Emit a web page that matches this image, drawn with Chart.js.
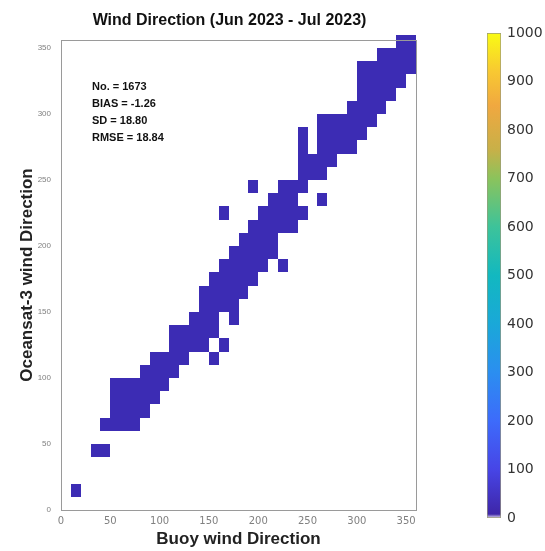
<!DOCTYPE html>
<html lang="en">
<head>
    <meta charset="UTF-8">
    <title>Wind Direction (Jun 2023 - Jul 2023)</title>
    <script src="https://cdn.jsdelivr.net/npm/chart.js"></script>
    <style>
        body { margin: 0; background: #fff; }
        #wrap { position: relative; width: 545px; height: 551px; }
        #plot { position: absolute; left: 0; top: 0; }
        #cbar { position: absolute; left: 460px; top: 0; }
    </style>
</head>
<body>
<div id="wrap">
    <canvas id="plot" width="460" height="551"></canvas>
    <canvas id="cbar" width="85" height="551"></canvas>
</div>

<script>
    // bins of 10 degrees, column index -> list of filled row indexes
    const binSize = 10;
    const colBins = [1, 3, 4, 5, 6, 7, 8, 9, 10, 11, 12, 13, 14, 15, 16, 17, 18,
                     19, 20, 21, 22, 23, 24, 25, 26, 27, 28, 29, 30, 31, 32, 33, 34, 35];
    const rowBins = [
        [1], [4], [4, 6], [6, 7, 8, 9], [6, 7, 8, 9], [6, 7, 8, 9],
        [7, 8, 9, 10], [8, 9, 10, 11], [9, 10, 11], [10, 11, 12, 13],
        [11, 12, 13], [12, 13, 14], [12, 13, 14, 15, 16], [11, 13, 14, 15, 16, 17],
        [12, 15, 16, 17, 18, 22], [14, 15, 16, 17, 18, 19], [16, 17, 18, 19, 20],
        [17, 18, 19, 20, 21, 24], [18, 19, 20, 21, 22], [19, 20, 21, 22, 23],
        [18, 21, 22, 23, 24], [21, 22, 23, 24], [22, 24, 25, 26, 27, 28], [25, 26],
        [23, 25, 26, 27, 28, 29], [26, 27, 28, 29], [27, 28, 29], [27, 28, 29, 30],
        [28, 29, 30, 31, 32, 33], [29, 30, 31, 32, 33], [30, 31, 32, 33, 34],
        [31, 32, 33, 34], [32, 33, 34, 35], [33, 34, 35]
    ];

    const xTicks = [0, 50, 100, 150, 200, 250, 300, 350];
    const yTicks = [0, 50, 100, 150, 200, 250, 300, 350];
    const cbTicks = [0, 100, 200, 300, 400, 500, 600, 700, 800, 900, 1000];
    const statLines = ['No. = 1673', 'BIAS = -1.26', 'SD = 18.80', 'RMSE = 18.84'];

    const cellColor = 'rgb(60, 44, 180)';
    const cmapStops = [0, 0.008, 0.1, 0.2, 0.3, 0.4, 0.5, 0.6, 0.7, 0.76, 0.85, 0.92, 1];
    const cmapColors = ['#e6e0f2', '#3e26a8', '#4745e6', '#3d6bfb', '#2b8ef0', '#1aa8d8',
                        '#12b8c0', '#3dc39a', '#8bc35c', '#c8b048', '#f0a840', '#f8c832', '#f9fb14'];

    // cell centres
    const cells = [];
    colBins.forEach((c, k) => {
        rowBins[k].forEach(r => {
            cells.push({ x: c * binSize + binSize / 2, y: r * binSize + binSize / 2 });
        });
    });

    const heatCells = {
        id: 'heatCells',
        afterDatasetsDraw(chart) {
            const { ctx, scales: { x, y } } = chart;
            const half = binSize / 2;
            ctx.save();
            ctx.fillStyle = cellColor;
            chart.data.datasets[0].data.forEach(p => {
                const x0 = Math.round(x.getPixelForValue(p.x - half));
                const x1 = Math.round(x.getPixelForValue(p.x + half));
                const y0 = Math.round(y.getPixelForValue(p.y + half));
                const y1 = Math.round(y.getPixelForValue(p.y - half));
                ctx.fillRect(x0, y0, x1 - x0, y1 - y0);
            });
            ctx.restore();
        }
    };

    const boxAndText = {
        id: 'boxAndText',
        afterDraw(chart) {
            const { ctx, chartArea: a } = chart;
            ctx.save();
            ctx.strokeStyle = '#9a9a9a';
            ctx.lineWidth = 1;
            ctx.strokeRect(a.left + 0.5, a.top + 0.5, a.right - a.left, a.bottom - a.top);

            // title
            ctx.fillStyle = '#111';
            ctx.font = 'bold 16px "Liberation Sans", Arial, sans-serif';
            ctx.textAlign = 'center';
            ctx.textBaseline = 'middle';
            ctx.fillText('Wind Direction (Jun 2023 - Jul 2023)', (a.left + a.right) / 2 - 9, 21);

            // statistics
            ctx.font = 'bold 11px "Liberation Sans", Arial, sans-serif';
            ctx.textAlign = 'left';
            ctx.textBaseline = 'alphabetic';
            statLines.forEach((s, i) => {
                ctx.fillText(s, a.left + 31, a.top + 50 + i * 17);
            });
            ctx.restore();
        }
    };

    new Chart(document.getElementById('plot'), {
        type: 'scatter',
        data: {
            datasets: [{
                data: cells,
                pointRadius: 0,
                pointHoverRadius: 0
            }]
        },
        options: {
            responsive: false,
            animation: false,
            layout: { padding: { top: 40, right: 44, left: 0, bottom: 0 } },
            plugins: {
                legend: { display: false },
                tooltip: { enabled: false }
            },
            scales: {
                x: {
                    type: 'linear',
                    min: 0,
                    max: 360,
                    afterBuildTicks: s => { s.ticks = xTicks.map(v => ({ value: v })); },
                    afterFit: s => { s.height = 41; },
                    grid: { display: false, drawTicks: false },
                    border: { display: false },
                    ticks: {
                        font: { family: 'DejaVu Sans', size: 10 },
                        color: '#808080',
                        padding: 5,
                        maxRotation: 0
                    },
                    title: {
                        display: true,
                        text: 'Buoy wind Direction',
                        font: { family: 'Liberation Sans', size: 17, weight: 'bold' },
                        color: '#222',
                        padding: { top: 0, bottom: 1 }
                    }
                },
                y: {
                    type: 'linear',
                    min: 0,
                    max: 356,
                    afterBuildTicks: s => { s.ticks = yTicks.map(v => ({ value: v })); },
                    afterFit: s => { s.width = 61; },
                    grid: { display: false, drawTicks: false },
                    border: { display: false },
                    ticks: {
                        font: { family: 'Liberation Sans', size: 8 },
                        color: '#808080',
                        padding: 10
                    },
                    title: {
                        display: true,
                        text: 'Oceansat-3 wind Direction',
                        font: { family: 'Liberation Sans', size: 17, weight: 'bold' },
                        color: '#222',
                        padding: { top: 17, bottom: 0 }
                    }
                }
            }
        },
        plugins: [heatCells, boxAndText]
    });

    // colour bar
    function cbarFill(context) {
        const { chart } = context;
        const area = chart.chartArea;
        if (!area) return cmapColors[1];
        const g = chart.ctx.createLinearGradient(0, area.bottom, 0, area.top);
        cmapStops.forEach((s, i) => g.addColorStop(s, cmapColors[i]));
        return g;
    }

    new Chart(document.getElementById('cbar'), {
        type: 'bar',
        data: {
            labels: [''],
            datasets: [{
                data: [cbTicks[cbTicks.length - 1]],
                backgroundColor: cbarFill,
                borderColor: '#9a9a7a',
                borderWidth: 1,
                borderSkipped: false,
                barPercentage: 1,
                categoryPercentage: 1
            }]
        },
        options: {
            responsive: false,
            animation: false,
            layout: { padding: { left: 27, top: 33, bottom: 33, right: 0 } },
            plugins: {
                legend: { display: false },
                tooltip: { enabled: false }
            },
            scales: {
                x: { display: false },
                y: {
                    position: 'right',
                    min: 0,
                    max: 1000,
                    afterBuildTicks: s => { s.ticks = cbTicks.map(v => ({ value: v })); },
                    afterFit: s => { s.width = 44; },
                    grid: { display: false, drawTicks: false },
                    border: { display: false },
                    ticks: {
                        font: { family: 'DejaVu Sans', size: 14 },
                        color: '#333',
                        padding: 6,
                        callback: v => String(v)
                    }
                }
            }
        }
    });
</script>
</body>
</html>
